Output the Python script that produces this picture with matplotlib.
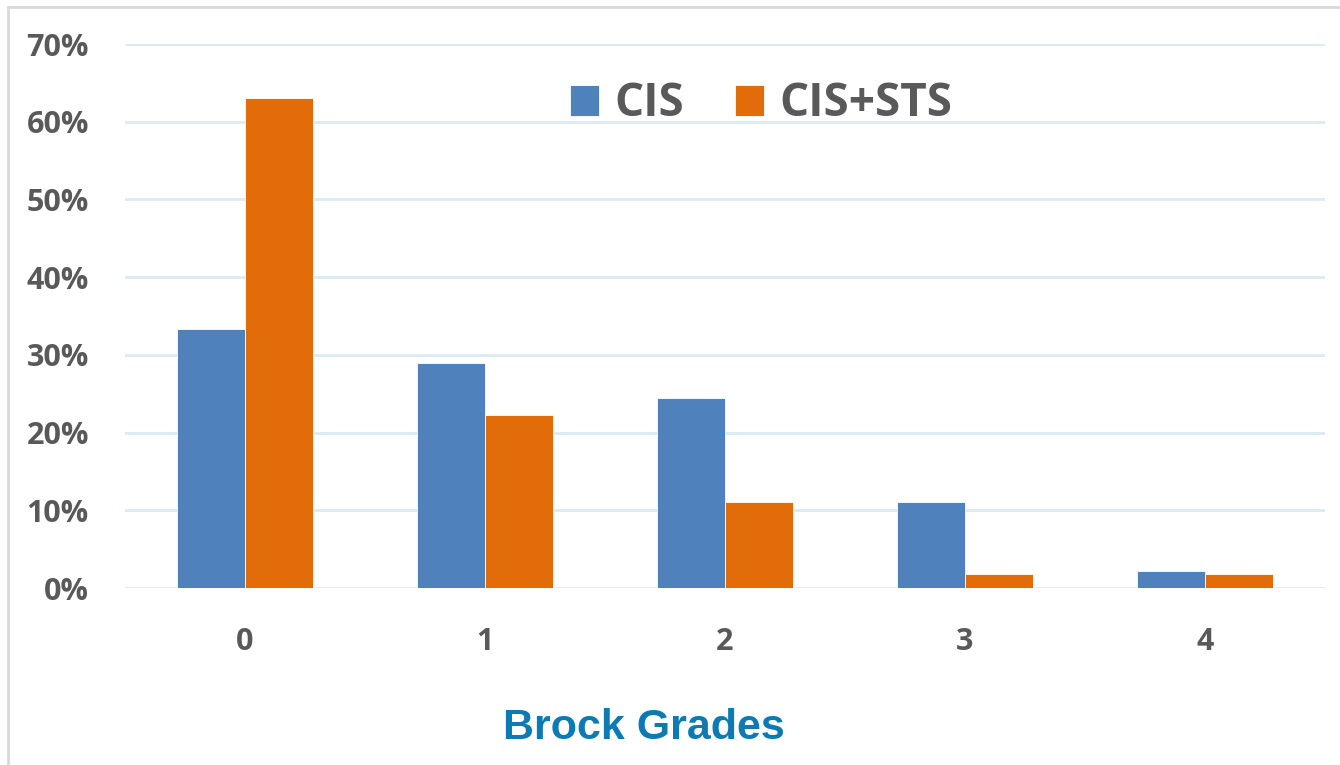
import matplotlib
matplotlib.use("Agg")
import matplotlib.pyplot as plt
import numpy as np
from matplotlib.lines import Line2D
from matplotlib.ticker import FuncFormatter, MultipleLocator

categories = ["0", "1", "2", "3", "4"]
cis = [33.3, 28.9, 24.4, 11.1, 2.2]
cis_sts = [63.0, 22.2, 11.1, 1.8, 1.8]
series_names = ["CIS", "CIS+STS"]
colors = ["#4F81BD", "#E36C0A"]

W, H = 1340, 765
fig = plt.figure(figsize=(W / 100, H / 100), dpi=100)
ax = fig.add_axes([125 / W, (H - 588) / H, 1200 / W, (588 - 44) / H])

x = np.arange(len(categories))
bw = 0.285
ax.bar(x - bw / 2, cis, bw, color=colors[0], edgecolor="white", linewidth=0.6, label=series_names[0], zorder=3)
ax.bar(x + bw / 2, cis_sts, bw, color=colors[1], edgecolor="white", linewidth=0.6, label=series_names[1], zorder=3)

ax.set_xlim(-0.5, 4.5)
ax.set_ylim(0, 70)
ax.yaxis.set_major_locator(MultipleLocator(10))
ax.yaxis.set_major_formatter(FuncFormatter(lambda v, p: f"{int(round(v))}%"))
ax.set_xticks(x)
ax.set_xticklabels(categories)
ax.grid(axis="y", color="#DCEBF2", linewidth=2, zorder=0)
for s in ax.spines.values():
    s.set_visible(False)
ax.tick_params(length=0, labelsize=22, labelcolor="#595959")
ax.tick_params(axis="y", pad=26)
ax.tick_params(axis="x", pad=28)
for lab in ax.get_xticklabels() + ax.get_yticklabels():
    lab.set_fontfamily("Open Sans")
    lab.set_fontweight("bold")

leg = ax.legend(loc="center", bbox_to_anchor=((761 - 125) / 1200, (588 - 104) / 544),
                ncol=2, frameon=False, handlelength=0.65, handleheight=0.65,
                handletextpad=0.33, columnspacing=1.1,
                prop={"family": "Open Sans", "weight": "bold", "size": 33})
for t in leg.get_texts():
    t.set_color("#595959")

fig.text(644 / W, 1 - 728 / H, "Brock Grades", ha="center", va="center",
         fontsize=31, fontweight="bold", color="#0E7AB3", family="Liberation Sans")

# outer border (cut off at right and bottom)
fig.add_artist(Line2D([8 / W, 8 / W], [0, 1 - 7 / H], transform=fig.transFigure, color="#D9D9D9", lw=2))
fig.add_artist(Line2D([8 / W, 1], [1 - 7 / H, 1 - 7 / H], transform=fig.transFigure, color="#D9D9D9", lw=2))

fig.savefig("out.png", dpi=100, facecolor="white")
